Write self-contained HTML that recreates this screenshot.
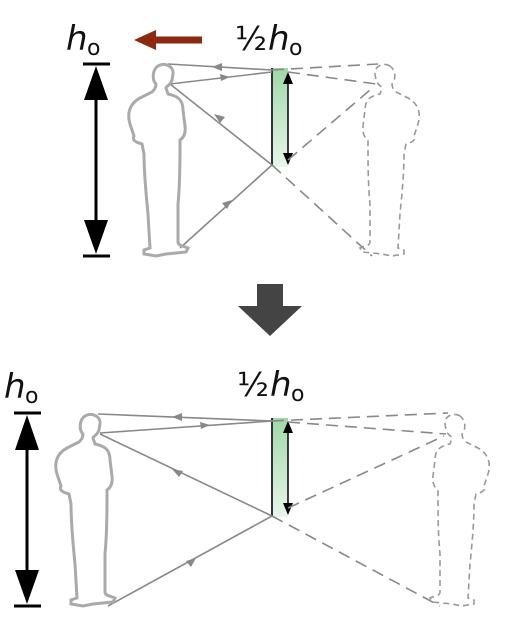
<!DOCTYPE html>
<html><head><style>html,body{margin:0;padding:0;background:#fff;}svg{display:block}</style></head>
<body>
<svg width="506" height="630" viewBox="0 0 506 630" xmlns="http://www.w3.org/2000/svg">
<defs>
<linearGradient id="g" x1="0" y1="0" x2="0" y2="1">
<stop offset="0" stop-color="#9fd8a8"/><stop offset="1" stop-color="#e8f6ea"/></linearGradient>
<path id="p" d="M30,2 C36,-2 46,2 45,10 L44,16 C42,22 38,22 38,24 L40,30 C50,32 55,36 55,46 L57,62 C58,70 55,74 52,76 L52,82 C52,100 52,120 50,140 L50,178 C50,182 56,182 60,184 L58,188 L38,190 L28,192 L16,190 L16,186 L22,184 L20,150 C18,130 16,110 16,90 L14,80 C7,78 4,76 6,72 L2,60 C-1,50 1,40 12,34 L24,28 C26,26 28,24 28,20 C24,16 24,6 30,2 Z"/>
</defs>
<g font-family="'DejaVu Sans','Liberation Sans',sans-serif" fill="#111">
<text x="66" y="50" font-size="34" font-style="italic">h</text><text x="87" y="55" font-size="22">o</text>
<text x="235" y="50" font-size="33">½</text><text x="268" y="50" font-size="34" font-style="italic">h</text><text x="289" y="55" font-size="22">o</text>
<text x="4" y="398" font-size="34" font-style="italic">h</text><text x="25" y="403" font-size="22">o</text>
<text x="237" y="396" font-size="33">½</text><text x="270" y="396" font-size="34" font-style="italic">h</text><text x="291" y="401" font-size="22">o</text>
</g>
<path d="M202,40 L152,40" stroke="#8b2a10" stroke-width="7"/><path d="M134,40 L156,30 L156,50 Z" fill="#8b2a10"/>
<path d="M257,284 H283 V306 H302 L270,336 L238,306 H257 Z" fill="#444"/>

<g stroke="#000" stroke-width="3"><path d="M83,64 H110 M83,256 H110"/><path d="M96,96 V224"/></g>
<path d="M96,66 L84,100 H108 Z M96,254 L84,220 H108 Z" fill="#000"/>
<rect x="272" y="68" width="16" height="99" fill="url(#g)"/>
<path d="M272,68 V165" stroke="#333" stroke-width="2"/>
<path d="M288,80 V158" stroke="#000" stroke-width="1.5"/><path d="M288,72 L283,84 H293 Z M288,165 L283,153 H293 Z" fill="#000"/>
<g stroke="#888" stroke-width="1.6" fill="none">
<path d="M272,70 L168,64"/>
<path d="M170,84 L272,72"/>
<path d="M170,84 L272,165"/>
<path d="M180,248 L272,165"/>
</g>
<g fill="#888"><path d="M212,67 l10,-4 l0,8z"/><path d="M230,77 l-10,-3 l1,7z"/><path d="M214,114 l11,3 l-5,6z"/><path d="M232,200 l-10,3 l5,6z"/></g>
<g stroke="#888" stroke-width="1.6" fill="none" stroke-dasharray="12,7">
<path d="M272,70 L378,64"/><path d="M288,72 L376,84"/><path d="M288,160 L370,90"/><path d="M272,165 L372,256"/>
</g>
<use href="#p" transform="translate(128,64)" fill="none" stroke="#aaa" stroke-width="3"/>
<use href="#p" transform="translate(420,64) scale(-1,1)" fill="none" stroke="#999" stroke-width="1.6" stroke-dasharray="6,4"/>

<g stroke="#000" stroke-width="3"><path d="M14,413 H41 M14,606 H41"/><path d="M27,445 V574"/></g>
<path d="M27,415 L15,450 H39 Z M27,604 L15,570 H39 Z" fill="#000"/>
<rect x="272" y="418" width="16" height="99" fill="url(#g)"/>
<path d="M272,418 V516" stroke="#333" stroke-width="2"/>
<path d="M288,430 V508" stroke="#000" stroke-width="1.5"/><path d="M288,421 L283,433 H293 Z M288,515 L283,503 H293 Z" fill="#000"/>
<g stroke="#888" stroke-width="1.6" fill="none">
<path d="M272,421 L98,414"/><path d="M100,433 L272,421"/><path d="M100,434 L272,516"/><path d="M108,606 L272,516"/>
</g>
<g fill="#888"><path d="M172,417 l10,-4 l0,8z"/><path d="M210,425 l-10,-3 l1,7z"/><path d="M172,469 l11,2 l-4,6z"/><path d="M196,558 l-10,3 l5,6z"/></g>
<g stroke="#888" stroke-width="1.6" fill="none" stroke-dasharray="12,7">
<path d="M272,421 L448,413"/><path d="M288,422 L446,434"/><path d="M288,508 L444,436"/><path d="M272,516 L440,606"/>
</g>
<use href="#p" transform="translate(55,414)" fill="none" stroke="#aaa" stroke-width="3"/>
<use href="#p" transform="translate(490,414) scale(-1,1)" fill="none" stroke="#999" stroke-width="1.6" stroke-dasharray="6,4"/>
</svg>
</body></html>
